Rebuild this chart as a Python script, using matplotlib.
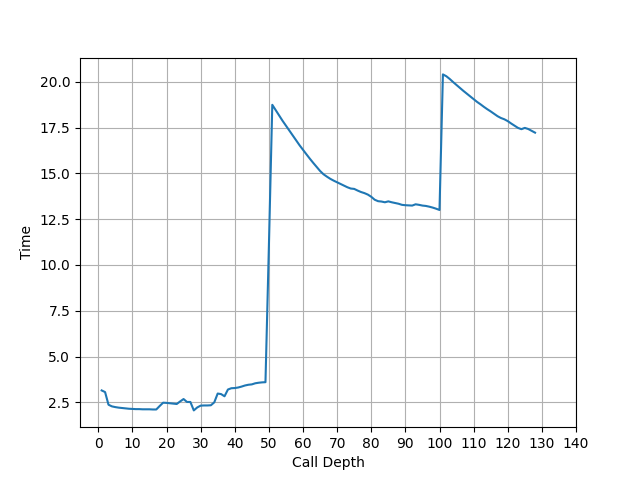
import matplotlib
matplotlib.use("Agg")
import matplotlib.pyplot as plt

# call depth 1..128
depth = list(range(1, 129))

time_low = [3.15, 3.06, 2.37, 2.28, 2.24, 2.21, 2.19, 2.17, 2.15, 2.14,
            2.13, 2.13, 2.12, 2.12, 2.12, 2.11, 2.11, 2.3, 2.48, 2.47,
            2.45, 2.43, 2.41, 2.55, 2.68, 2.52, 2.52, 2.06, 2.22, 2.32,
            2.33, 2.33, 2.34, 2.5, 2.98, 2.95, 2.83, 3.2, 3.27, 3.28,
            3.31, 3.36, 3.42, 3.46, 3.48, 3.54, 3.57, 3.59, 3.6]

time_mid = [11.0, 18.74, 18.45, 18.15, 17.87, 17.6, 17.32, 17.05, 16.78, 16.53,
            16.28, 16.04, 15.8, 15.57, 15.35, 15.13, 14.95, 14.82, 14.7, 14.6,
            14.51, 14.42, 14.33, 14.24, 14.17, 14.15, 14.06, 13.98, 13.92, 13.84,
            13.72, 13.56, 13.48, 13.46, 13.42, 13.47, 13.42, 13.38, 13.34, 13.28,
            13.26, 13.25, 13.24, 13.31, 13.28, 13.24, 13.22, 13.18, 13.13, 13.07,
            13.0]

time_high = [20.4, 20.3, 20.15, 19.98, 19.82, 19.66, 19.5, 19.35, 19.2, 19.05,
             18.9, 18.77, 18.63, 18.5, 18.38, 18.25, 18.12, 18.02, 17.95, 17.85,
             17.72, 17.6, 17.48, 17.41, 17.48, 17.42, 17.32, 17.22]

times = time_low + time_mid + time_high

plt.figure(figsize=(6.4, 4.8), dpi=100)
plt.plot(depth, times)
plt.xlabel('Call Depth')
plt.ylabel('Time')
plt.xticks(range(0, 141, 10))
plt.grid(True)
plt.savefig('out.png')
